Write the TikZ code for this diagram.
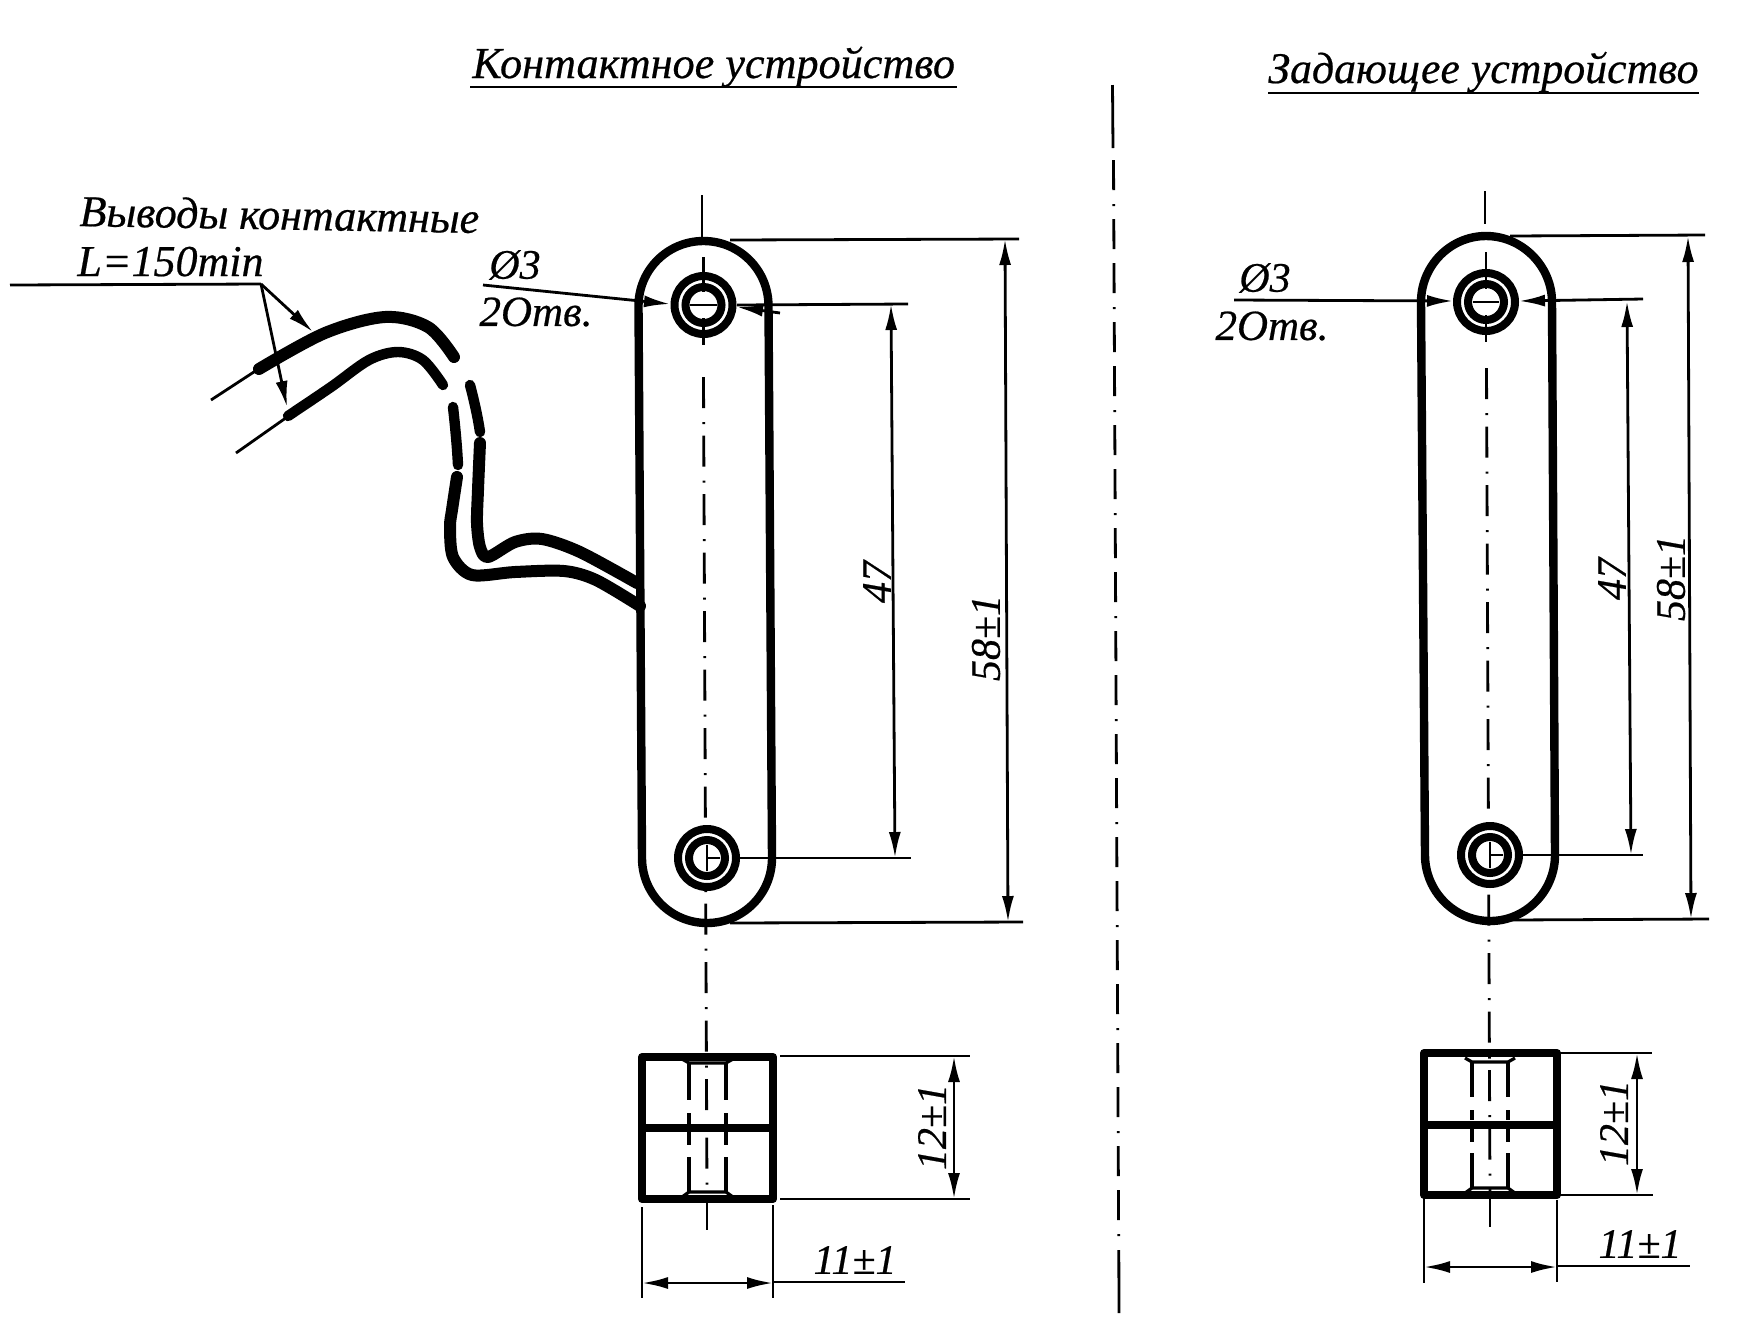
\documentclass[tikz,border=0pt]{standalone}
\usepackage{fontspec}
\setmainfont{Liberation Serif}[ItalicFeatures={FakeBold=0.5}]
\usetikzlibrary{arrows.meta}
\tikzset{
  x=0.5pt,y=-0.5pt,
  thick outline/.style={line width=4.2pt,line join=round},
  thinline/.style={line width=1.4pt},
  axisline/.style={line width=1.4pt,dash pattern=on 15.5pt off 7pt on 1pt off 5.75pt},
  midline/.style={line width=1.4pt,dash pattern=on 15pt off 7pt on 15pt off 7pt on 1pt off 6.5pt,dash phase=22pt},
  hidden/.style={line width=1.6pt},
  dima/.style={line width=1.4pt,{Latex[length=13pt,width=6pt]}-{Latex[length=13pt,width=6pt]}},
  tipa/.style={line width=1.4pt,-{Latex[length=13pt,width=6pt]}},
  wirea/.style={line width=6pt,line cap=round,line join=round},
  wireb/.style={line width=5.2pt,line cap=round,line join=round},
  lbl/.style={inner sep=0pt,font=\fontsize{21}{21}\selectfont\itshape},
  lead/.style={inner sep=0pt,anchor=base west,font=\fontsize{22}{22}\selectfont\itshape},
  ttl/.style={inner sep=0pt,anchor=base west,font=\fontsize{22.1}{22}\selectfont\itshape},
}
\begin{document}
\begin{tikzpicture}
\useasboundingbox (0,0) rectangle (1741,1335);
\fill[white] (0,0) rectangle (1741,1335);
% titles
\node[ttl] (t1) at (472,78) {Контактное устройство};
\draw[thinline] (470,87) -- (957,87);
\node[ttl,font=\fontsize{21.9}{22}\selectfont\itshape] (t2) at (1268,83) {Задающее устройство};
\draw[thinline] (1268,93) -- (1699,93);
% central line
\draw[thinline] (1112.5,85) -- (1113,148);
\draw[midline] (1113.5,160) -- (1118.7,1245);
\draw[thinline] (1118.8,1250) -- (1119,1313);
% ===== left device =====
\draw[thinline] (702,195) -- (702,237);
\draw[axisline] (703.5,377) -- (707,1195);
\draw[thinline] (707,1199) -- (707,1230);
\draw[thick outline] (638.5,306) .. controls (638.5,270) and (667.5,241) .. (703.5,241)
  .. controls (739.5,241) and (768.5,270) .. (768.5,306) -- (772,858)
  .. controls (772,894) and (743,923) .. (707,923)
  .. controls (671,923) and (642,894) .. (642,858) -- cycle;
% holes
\draw[line width=4pt,fill=white] (703.5,305) circle (14.5pt);
\draw[line width=4pt,fill=white] (703.5,305) circle (9pt);
\draw[thinline] (703.5,257) -- (703.5,292) (703.5,318) -- (703.5,345);
\draw[thinline] (690,305) -- (717,305);
\draw[line width=4pt,fill=white] (707,858) circle (14.5pt);
\draw[line width=4pt,fill=white] (707,858) circle (9pt);
\draw[thinline] (707,845) -- (707,871) (707,858) -- (720,858);
% left dims
\draw[thinline] (730,240) -- (1019,239);
\draw[thinline] (730,923) -- (1023,922);
\draw[thinline] (737,305) -- (908,304);
\draw[thinline] (737,858) -- (911,858);
\draw[dima] (1005,239) -- (1008,922);
\draw[dima] (891,304) -- (895,858);
\draw[tipa] (483,285) -- (670,304);
\draw[tipa] (780,313) -- (737,307);
\node[lbl,rotate=90] (d47a) at (877,582) {47};
\node[lbl,rotate=90] (d58a) at (986,638) {58±1};
\node[lbl] (phia) at (515,265) {Ø3};
\node[lbl,font=\fontsize{21.5}{21}\selectfont\itshape] (hola) at (536,312) {2Отв.};
% wires
\node[lead,rotate=-1] (w1) at (79,226) {Выводы контактные};
\node[lead] (w2) at (77,276) {L=150min};
\draw[thinline] (10,285) -- (261,284);
\draw[tipa] (261,284) -- (313,332);
\draw[tipa] (261,284) -- (287,407);
\draw[line width=1.4pt] (211,400) -- (260,368);
\draw[line width=1.4pt] (236,453) -- (290,415);
\draw[wirea] plot[smooth,tension=.55] coordinates {(259,369) (325,333) (385,317) (428,327) (454,357)};
\draw[wireb] plot[smooth,tension=.55] coordinates {(288,416) (331,387) (369,360) (398,352) (423,360) (443,385)};
\draw[wireb] (470,385) .. controls (474,400) and (478,418) .. (480,432);
\draw[wireb] (453,407) .. controls (455,425) and (457,445) .. (458,465);
\draw[wirea] plot[smooth,tension=.5] coordinates {(480,443) (478,490) (477,523) (480,547) (488,557) (515,542) (542,539) (580,552) (637,583)};
\draw[wirea] plot[smooth,tension=.5] coordinates {(457,477) (452,510) (450,527) (453,557) (472,575) (515,572) (564,571) (596,580) (640,606)};
% left box
\draw[line width=4pt,line join=round] (642,1057) rectangle (773,1199);
\draw[line width=4pt] (642,1128) -- (773,1128);
\draw[hidden] (682,1059) -- (689,1063) -- (726,1063) -- (733,1059);
\draw[hidden] (682,1197) -- (689,1192) -- (726,1192) -- (733,1197);
\draw[hidden] (689,1063) -- (689,1100) (689,1113) -- (689,1125) (689,1132) -- (689,1145) (689,1157) -- (689,1192);
\draw[hidden] (726,1063) -- (726,1100) (726,1113) -- (726,1125) (726,1132) -- (726,1145) (726,1157) -- (726,1192);
\draw[thinline] (780,1056) -- (970,1056);
\draw[thinline] (780,1199) -- (970,1199);
\draw[dima] (954,1056) -- (954,1199);
\node[lbl,rotate=90] (d12a) at (932,1127) {12±1};
\draw[thinline] (642,1207) -- (642,1298);
\draw[thinline] (773,1205) -- (773,1298);
\draw[dima] (642,1283) -- (773,1283);
\draw[thinline] (773,1282) -- (905,1282);
\node[lbl] (d11a) at (855,1260) {11±1};
% ===== right device =====
\draw[thinline] (1485,191) -- (1485,224);
\draw[axisline] (1486.5,368) -- (1490,1195);
\draw[thinline] (1490,1195) -- (1490,1227);
\draw[thick outline] (1421,302) .. controls (1421,266) and (1450,236) .. (1486,236)
  .. controls (1522,236) and (1552,266) .. (1552,302) -- (1555,855)
  .. controls (1555,891) and (1526,921) .. (1490,921)
  .. controls (1454,921) and (1425,891) .. (1425,855) -- cycle;
\draw[line width=4pt,fill=white] (1486,302) circle (14.5pt);
\draw[line width=4pt,fill=white] (1486,302) circle (9pt);
\draw[thinline] (1486,252) -- (1486,289) (1486,315) -- (1486,342);
\draw[thinline] (1473,302) -- (1499,302);
\draw[line width=4pt,fill=white] (1490,855) circle (14.5pt);
\draw[line width=4pt,fill=white] (1490,855) circle (9pt);
\draw[thinline] (1490,842) -- (1490,868) (1490,855) -- (1503,855);
\draw[thinline] (1510,236) -- (1705,235);
\draw[thinline] (1510,920) -- (1709,919);
\draw[thinline] (1523,855) -- (1643,855);
\draw[dima] (1688,236) -- (1691,919);
\draw[dima] (1627,301) -- (1631,855);
\draw[tipa] (1234,300) -- (1453,301);
\draw[tipa] (1643,299) -- (1519,301);
\node[lbl,rotate=90] (d47b) at (1612,579) {47};
\node[lbl,rotate=90] (d58b) at (1671,578) {58±1};
\node[lbl] (phib) at (1265,278) {Ø3};
\node[lbl,font=\fontsize{21.5}{21}\selectfont\itshape] (holb) at (1272,326) {2Отв.};
% right box
\draw[line width=4pt,line join=round] (1424,1053) rectangle (1557,1195);
\draw[line width=4pt] (1424,1125) -- (1557,1125);
\draw[hidden] (1465,1058) -- (1472,1062) -- (1508,1062) -- (1515,1058);
\draw[hidden] (1465,1193) -- (1472,1188) -- (1508,1188) -- (1515,1193);
\draw[hidden] (1472,1062) -- (1472,1097) (1472,1110) -- (1472,1120) (1472,1128) -- (1472,1142) (1472,1153) -- (1472,1188);
\draw[hidden] (1508,1062) -- (1508,1097) (1508,1110) -- (1508,1120) (1508,1128) -- (1508,1142) (1508,1153) -- (1508,1188);
\draw[thinline] (1557,1053) -- (1652,1053);
\draw[thinline] (1557,1195) -- (1653,1195);
\draw[dima] (1637,1053) -- (1637,1195);
\node[lbl,rotate=90] (d12b) at (1614,1123) {12±1};
\draw[thinline] (1424,1197) -- (1424,1283);
\draw[thinline] (1557,1200) -- (1557,1282);
\draw[dima] (1424,1267) -- (1557,1267);
\draw[thinline] (1557,1266) -- (1690,1266);
\node[lbl] (d11b) at (1640,1244) {11±1};
\end{tikzpicture}
\end{document}
